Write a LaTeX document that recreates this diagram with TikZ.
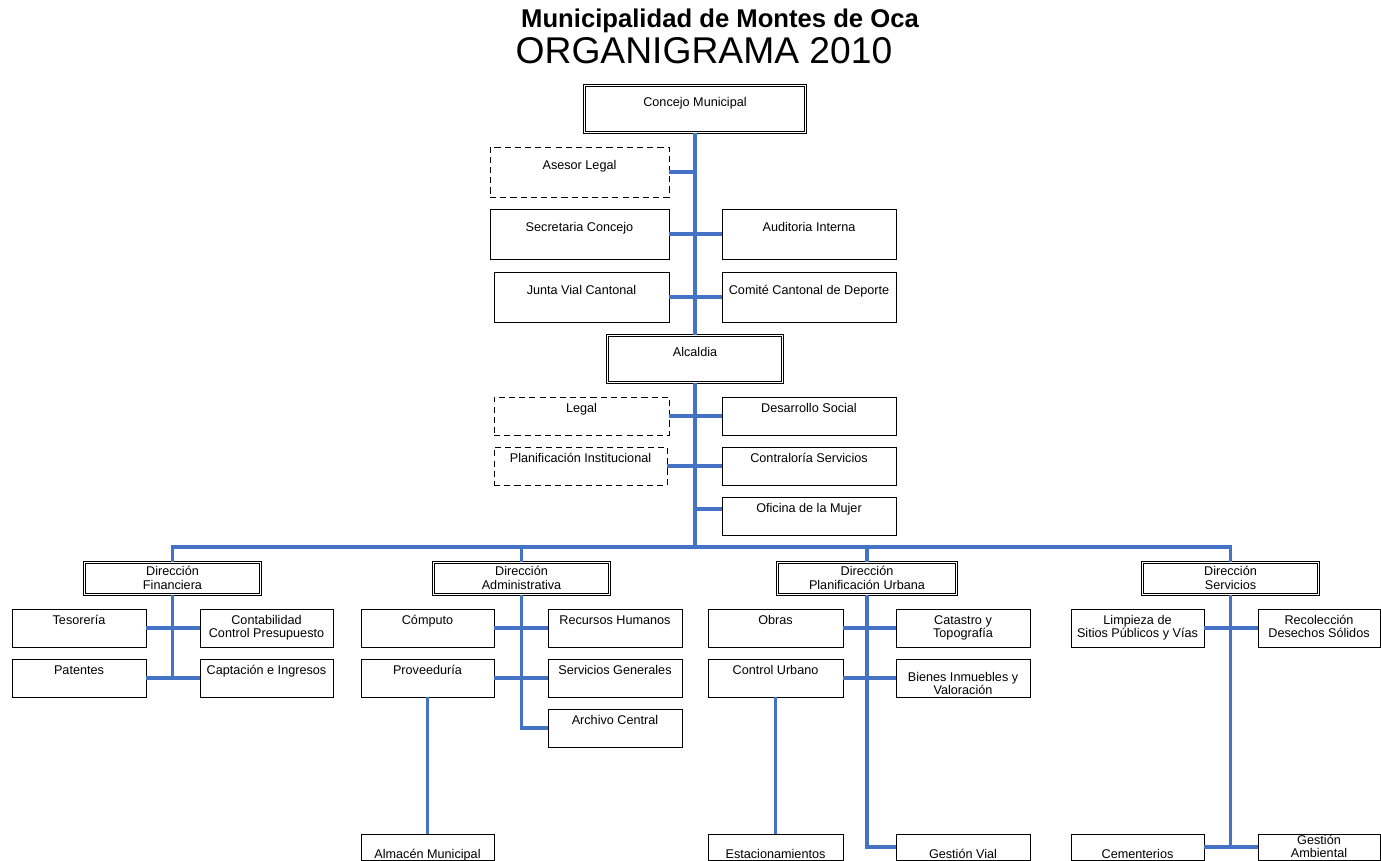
\documentclass[tikz,border=0pt]{standalone}
\usepackage{fontspec}
\setmainfont{Liberation Sans}
\usepackage{tikz}
\definecolor{linkblue}{RGB}{68,114,196}
\newcommand{\unitfont}{\fontsize{7.2}{7.6}\selectfont}
\newcommand{\twoline}[2]{\begin{tabular}[t]{@{}c@{}}#1\\#2\end{tabular}}
\tikzstyle{unit}=[draw,line width=0.5pt,inner sep=0pt,font=\unitfont,text height=0.31cm,text depth=0.45cm]
\tikzstyle{tall}=[unit,text height=0.45cm,text depth=0.55cm]
\tikzstyle{head}=[unit,double,double distance=1pt,text height=0.42cm,text depth=0.52cm]
\tikzstyle{dept}=[unit,double,double distance=1pt,text height=0.265cm,text depth=0.375cm]
\tikzstyle{advisor}=[dash pattern=on 3.5pt off 2.3pt]
\tikzstyle{low}=[unit,text height=0.48cm,text depth=0.04cm]
\tikzstyle{link}=[draw,line width=1.8pt,linkblue]

\begin{document}
\begin{tikzpicture}[x=0.02cm,y=-0.02cm]
      \useasboundingbox (0,0) rectangle (1381,861);
      % titles
      \node[anchor=base,font=\fontsize{14.6}{17}\selectfont\bfseries] (muni) at (720,28) {Municipalidad de Montes de Oca};
      \node[anchor=base,font=\fontsize{21.2}{25}\selectfont] (organi) at (704,64) {ORGANIGRAMA 2010};
      % council and mayor
      \node[head,minimum width=4.42cm] (concejo) at (695,109) {Concejo Municipal};
      \node[tall,advisor,minimum width=3.58cm] (asesor) at (579.5,172) {Asesor Legal};
      \node[tall,minimum width=3.58cm] (secretaria) at (579.5,234) {Secretaria Concejo};
      \node[tall,minimum width=3.48cm] (auditoria) at (809,234) {Auditoria Interna};
      \node[tall,minimum width=3.5cm] (junta) at (581.5,297) {Junta Vial Cantonal};
      \node[tall,minimum width=3.48cm] (comite) at (809,297) {Comité Cantonal de Deporte};
      \node[head,minimum width=3.5cm] (alcaldia) at (695,359) {Alcaldia};
      \node[unit,advisor,minimum width=3.5cm] (legal) at (581.5,416) {Legal};
      \node[unit,minimum width=3.48cm] (desarrollo) at (809,416) {Desarrollo Social};
      \node[unit,advisor,minimum width=3.46cm] (planinst) at (580.5,466) {Planificación Institucional};
      \node[unit,minimum width=3.48cm] (contraloria) at (809,466) {Contraloría Servicios};
      \node[unit,minimum width=3.48cm] (mujer) at (809,516) {Oficina de la Mujer};
      % departments
      \node[dept,minimum width=3.52cm] (financiera) at (172.5,578.5) {\twoline{Dirección}{Financiera}};
      \node[dept,minimum width=3.52cm] (administrativa) at (521.5,578.5) {\twoline{Dirección}{Administrativa}};
      \node[dept,minimum width=3.58cm] (planurbana) at (867,578.5) {\twoline{Dirección}{Planificación Urbana}};
      \node[dept,minimum width=3.52cm] (servicios) at (1230.5,578.5) {\twoline{Dirección}{Servicios}};
      % financiera
      \node[unit,minimum width=2.68cm] (tesoreria) at (79,628) {Tesorería};
      \node[unit,minimum width=2.66cm] (contabilidad) at (266.5,628) {\twoline{Contabilidad}{Control Presupuesto}};
      \node[unit,minimum width=2.68cm] (patentes) at (79,678) {Patentes};
      \node[unit,minimum width=2.66cm] (captacion) at (266.5,678) {Captación e Ingresos};
      % administrativa
      \node[unit,minimum width=2.66cm] (computo) at (427.5,628) {Cómputo};
      \node[unit,minimum width=2.68cm] (rrhh) at (615,628) {Recursos Humanos};
      \node[unit,minimum width=2.66cm] (proveeduria) at (427.5,678) {Proveeduría};
      \node[unit,minimum width=2.68cm] (servgen) at (615,678) {Servicios Generales};
      \node[unit,minimum width=2.68cm] (archivo) at (615,728) {Archivo Central};
      \node[low,minimum width=2.66cm] (almacen) at (427.5,847) {Almacén Municipal};
      % planificacion urbana
      \node[unit,minimum width=2.7cm] (obras) at (775.5,628) {Obras};
      \node[unit,minimum width=2.68cm] (catastro) at (963,628) {\twoline{Catastro y}{Topografía}};
      \node[unit,minimum width=2.7cm] (control) at (775.5,678) {Control Urbano};
      \node[unit,minimum width=2.68cm,text height=0.44cm,text depth=0.32cm] (bienes) at (963,678) {\twoline{Bienes Inmuebles y}{Valoración}};
      \node[low,minimum width=2.7cm] (estacion) at (775.5,847) {Estacionamientos};
      \node[low,minimum width=2.68cm] (gestionvial) at (963,847) {Gestión Vial};
      % servicios
      \node[unit,minimum width=2.66cm] (limpieza) at (1137.5,628) {\twoline{Limpieza de}{Sitios Públicos y Vías}};
      \node[unit,minimum width=2.44cm] (recoleccion) at (1319,628) {\twoline{Recolección}{Desechos Sólidos}};
      \node[low,minimum width=2.66cm] (cementerios) at (1137.5,847) {Cementerios};
      \node[low,minimum width=2.44cm,text height=0.2cm,text depth=0.32cm] (ambiental) at (1319,847) {\twoline{Gestión}{Ambiental}};
      % connectors
      \coordinate (hub) at (695,547);
      \coordinate (mujerlink) at (695,509);
      \draw[link] (concejo) to (alcaldia);
      \draw[link] (alcaldia) to (hub);
      \draw[link] (asesor.east) to (asesor.east -| alcaldia);
      \draw[link] (secretaria) to (auditoria);
      \draw[link] (junta) to (comite);
      \draw[link] (legal) to (desarrollo);
      \draw[link] (planinst) to (contraloria);
      \draw[link] (mujerlink) to (mujer.west |- mujerlink);
      \draw[link] (financiera.north) |- (hub) -| (servicios.north);
      \draw[link] (administrativa.north) to (administrativa.north |- hub);
      \draw[link] (planurbana.north) to (planurbana.north |- hub);
      \draw[link] (financiera.south) to (financiera.south |- patentes);
      \draw[link] (tesoreria) to (contabilidad);
      \draw[link] (patentes) to (captacion);
      \draw[link] (administrativa.south) |- (archivo.west);
      \draw[link] (computo) to (rrhh);
      \draw[link] (proveeduria) to (servgen);
      \draw[link] (proveeduria) to (almacen);
      \draw[link] (planurbana.south) |- (gestionvial.west);
      \draw[link] (obras) to (catastro);
      \draw[link] (control) to (bienes);
      \draw[link] (control) to (estacion);
      \draw[link] (servicios.south) to (servicios.south |- cementerios);
      \draw[link] (limpieza) to (recoleccion);
      \draw[link] (cementerios) to (ambiental);
    \end{tikzpicture}
\end{document}
